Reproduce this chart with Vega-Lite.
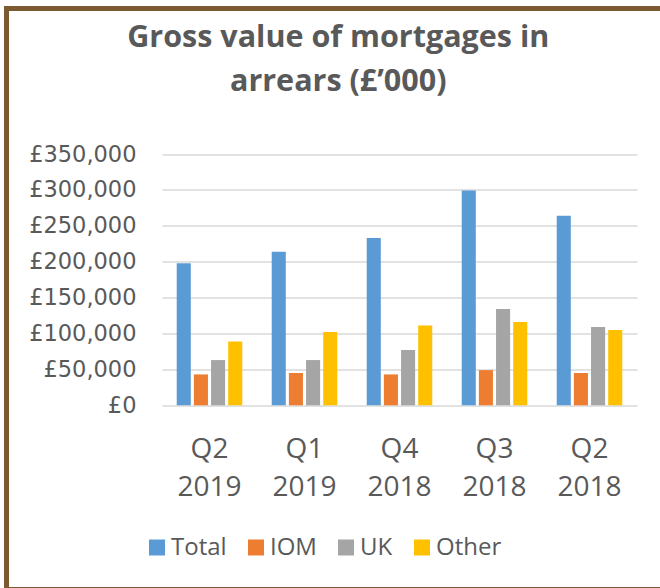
{
  "$schema": "https://vega.github.io/schema/vega-lite/v6.json",
  "autosize": "none",
  "width": 661.5,
  "height": 581,
  "padding": {"left": 6.5, "top": 8.5, "right": -8, "bottom": -1.5},
  "background": "white",
  "title": {
    "text": ["Gross value of mortgages in", "arrears (£’000)"],
    "font": "Open Sans",
    "fontWeight": "bold",
    "fontSize": 30.5,
    "color": "#595959",
    "lineHeight": 44.5,
    "anchor": "middle",
    "frame": "group",
    "dx": 1,
    "offset": -89
  },
  "data": {
    "values": [
      {"quarter": "Q2 2019", "series": "Total", "value": 198000},
      {"quarter": "Q2 2019", "series": "IOM", "value": 43000},
      {"quarter": "Q2 2019", "series": "UK", "value": 63000},
      {"quarter": "Q2 2019", "series": "Other", "value": 89000},
      {"quarter": "Q1 2019", "series": "Total", "value": 214000},
      {"quarter": "Q1 2019", "series": "IOM", "value": 45000},
      {"quarter": "Q1 2019", "series": "UK", "value": 63000},
      {"quarter": "Q1 2019", "series": "Other", "value": 102000},
      {"quarter": "Q4 2018", "series": "Total", "value": 233000},
      {"quarter": "Q4 2018", "series": "IOM", "value": 43000},
      {"quarter": "Q4 2018", "series": "UK", "value": 77000},
      {"quarter": "Q4 2018", "series": "Other", "value": 111000},
      {"quarter": "Q3 2018", "series": "Total", "value": 299000},
      {"quarter": "Q3 2018", "series": "IOM", "value": 49000},
      {"quarter": "Q3 2018", "series": "UK", "value": 134000},
      {"quarter": "Q3 2018", "series": "Other", "value": 116000},
      {"quarter": "Q2 2018", "series": "Total", "value": 264000},
      {"quarter": "Q2 2018", "series": "IOM", "value": 45000},
      {"quarter": "Q2 2018", "series": "UK", "value": 109000},
      {"quarter": "Q2 2018", "series": "Other", "value": 105000}
    ]
  },
  "mark": {"type": "bar"},
  "encoding": {
    "x": {
      "field": "quarter",
      "type": "nominal",
      "sort": ["Q2 2019", "Q1 2019", "Q4 2018", "Q3 2018", "Q2 2018"],
      "scale": {"range": [155.5, 630.5], "paddingInner": 0.31, "paddingOuter": 0.155},
      "axis": {
        "title": null,
        "orient": "bottom",
        "offset": -184.2,
        "domain": false,
        "ticks": false,
        "tickSize": 0,
        "grid": false,
        "labelAngle": 0,
        "labelPadding": 30,
        "labelFont": "Open Sans",
        "labelFontSize": 28,
        "labelLineHeight": 38,
        "labelColor": "#595959",
        "labelOverlap": false,
        "labelBound": false,
        "labelFlush": false,
        "labelExpr": "split(datum.label, ' ')"
      }
    },
    "xOffset": {
      "field": "series",
      "type": "nominal",
      "sort": ["Total", "IOM", "UK", "Other"],
      "scale": {"paddingInner": 0.18, "paddingOuter": 0}
    },
    "y": {
      "field": "value",
      "type": "quantitative",
      "scale": {"domain": [0, 350000], "range": [396.8, 145.5], "nice": false, "zero": true},
      "axis": {
        "title": null,
        "orient": "left",
        "offset": -155.5,
        "values": [0, 50000, 100000, 150000, 200000, 250000, 300000, 350000],
        "domain": false,
        "ticks": false,
        "tickSize": 0,
        "grid": true,
        "gridColor": "#D9D9D9",
        "gridWidth": 1.5,
        "labelPadding": 26,
        "labelFont": "DejaVu Sans",
        "labelFontSize": 22.5,
        "labelColor": "#595959",
        "labelOverlap": false,
        "labelBound": false,
        "labelFlush": false,
        "labelExpr": "'£' + format(datum.value, ',')"
      }
    },
    "color": {
      "field": "series",
      "type": "nominal",
      "sort": ["Total", "IOM", "UK", "Other"],
      "scale": {
        "domain": ["Total", "IOM", "UK", "Other"],
        "range": ["#5B9BD5", "#ED7D31", "#A5A5A5", "#FFC000"]
      },
      "legend": {
        "title": null,
        "orient": "none",
        "legendX": 138.5,
        "legendY": 527,
        "direction": "horizontal",
        "padding": 0,
        "symbolType": "square",
        "symbolSize": 256,
        "symbolStrokeWidth": 0,
        "symbolOpacity": 1,
        "labelFont": "Open Sans",
        "labelFontSize": 24,
        "labelColor": "#595959",
        "labelOffset": 2,
        "columnPadding": 17
      }
    }
  },
  "config": {
    "view": {"stroke": "#7B5A31", "strokeWidth": 5, "fill": "white"}
  }
}
